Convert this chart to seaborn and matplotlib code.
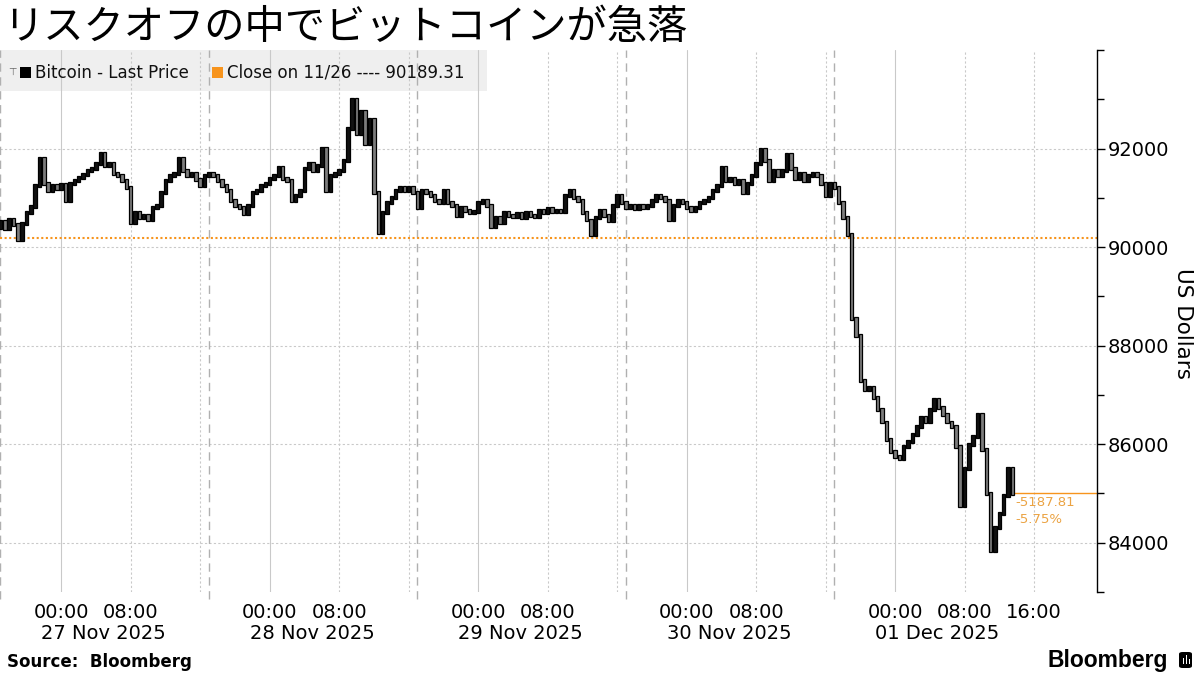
'''Bitcoin sell-off chart, Bloomberg style'''
import numpy as np
import pandas as pd
import seaborn as sns
import matplotlib.pyplot as plt
import matplotlib.dates as mdates
from matplotlib import ticker
from matplotlib import transforms
from matplotlib.patches import Rectangle, FancyBboxPatch

#region data
TITLE = 'リスクオフの中でビットコインが急落'
SERIES_NAME = 'Bitcoin - Last Price'
Y_LABEL = 'US Dollars'
SOURCE = 'Source:  Bloomberg'
LOGO = 'Bloomberg'

START = '2025-11-26 17:00'  # first 30-min bar
FIRST_OPEN = 90400
PREV_CLOSE = 90189.31
REF_DATE = '11/26'

# 30-min closes, 26 Nov 17:00 -> 01 Dec 13:30
CLOSE = [
    90520, 90380, 90560, 90450, 90150, 90480, 90700, 90820, 91250, 91800,
    91300, 91150, 91250, 91180, 91280, 90950, 91300, 91350, 91420, 91480,
    91550, 91600, 91700, 91900, 91650, 91700, 91500, 91450, 91350, 91200,
    90500, 90700, 90600, 90650, 90550, 90800, 90850, 91100, 91350, 91450,
    91500, 91800, 91550, 91450, 91500, 91380, 91250, 91450, 91500, 91450,
    91350, 91250, 91150, 90950, 90850, 90800, 90680, 90850, 91100, 91150,
    91250, 91300, 91400, 91450, 91620, 91400, 91350, 90950, 91050, 91150,
    91600, 91700, 91550, 91650, 92000, 91150, 91450, 91500, 91550, 91750,
    92400, 93000, 92300, 92750, 92100, 92600, 91100, 90300, 90700, 90900,
    91000, 91150, 91200, 91150, 91200, 91100, 90800, 91150, 91100, 91050,
    90950, 90900, 91150, 90900, 90850, 90650, 90800, 90750, 90700, 90720,
    90900, 90950, 90850, 90420, 90600, 90500, 90700, 90650, 90620, 90680,
    90600, 90700, 90650, 90620, 90750, 90700, 90780, 90720, 90750, 90720,
    91050, 91150, 91000, 90950, 90700, 90550, 90250, 90600, 90750, 90650,
    90530, 90850, 91050, 90900, 90800, 90850, 90780, 90850, 90800, 90850,
    90950, 91050, 91000, 90950, 90550, 90850, 90950, 90900, 90800, 90750,
    90800, 90900, 90950, 91000, 91150, 91250, 91620, 91350, 91400, 91300,
    91350, 91100, 91300, 91450, 91700, 91980, 91750, 91350, 91550, 91450,
    91550, 91880, 91600, 91400, 91500, 91350, 91450, 91500, 91450, 91300,
    91050, 91300, 91200, 90900, 90600, 90250, 88550, 88200, 87300, 87100,
    87150, 86950, 86700, 86450, 86100, 85850, 85750, 85700, 85950, 86050,
    86200, 86350, 86550, 86450, 86700, 86900, 86750, 86600, 86450, 86350,
    85950, 84750, 85500, 86000, 86150, 86600, 85900, 85000, 83850, 84300,
    84600, 84950, 85500, 85001.5,
]

DAYS = ['2025-11-27', '2025-11-28', '2025-11-29', '2025-11-30', '2025-12-01']
DAY_LABELS = ['27 Nov 2025', '28 Nov 2025', '29 Nov 2025', '30 Nov 2025', '01 Dec 2025']
SESSION_BREAKS = ['2025-11-26 17:00', '2025-11-27 17:00', '2025-11-28 17:00',
                  '2025-11-29 17:00', '2025-11-30 17:00']
X_RANGE = ['2025-11-26 16:57', '2025-12-01 23:15']
Y_TICKS = [84000, 86000, 88000, 90000, 92000]
Y_MINOR = [83000, 85000, 87000, 89000, 91000, 93000, 94000]
Y_RANGE = [83000, 94000]
#endregion

ORANGE = '#F7941D'
ORANGE_TXT = '#EBA343'
GRID = '#c9c9c9'
WICK = 30  # visual padding of each candle body, USD

W, H = 1200, 675


def fx(x):
    return x / W


def fy(y):
    return 1 - y / H


def dnum(s):
    return mdates.date2num(pd.Timestamp(s))


sns.set_theme(style='white')
plt.rcParams['font.family'] = ['DejaVu Sans', 'Noto Sans CJK JP']
plt.rcParams['text.color'] = 'black'

fig = plt.figure(figsize=(12, 6.75), dpi=100)
ax = fig.add_axes([0, fy(592), fx(1097), fy(50) - fy(592)])

times = pd.date_range(START, periods=len(CLOSE), freq='30min')
df = pd.DataFrame({'t': mdates.date2num(times), 'close': CLOSE})
df['open'] = [FIRST_OPEN] + CLOSE[:-1]

# connecting path + candle bodies
sns.lineplot(data=df, x='t', y='close', drawstyle='steps-post', color='black',
             lw=1.0, ax=ax, zorder=3)
step = 0.5 / 24
lo = np.minimum(df['open'], df['close']) - WICK
hi = np.maximum(df['open'], df['close']) + WICK
up = df['close'] >= df['open']
ax.bar(df['t'], hi - lo, bottom=lo, width=step * 0.8,
       color=np.where(up, '#111111', '#7d7d7d'), edgecolor='black',
       linewidth=0.9, zorder=4)

ax.set_xlim(dnum(X_RANGE[0]), dnum(X_RANGE[1]))
ax.set_ylim(*Y_RANGE)

# grid
for y in Y_TICKS:
    ax.axhline(y, color=GRID, lw=0.8, ls=(0, (2, 2)), zorder=1)
xt, xl = [], []
for i, d in enumerate(DAYS):
    for h in (0, 8, 16):
        t = dnum(d) + h / 24
        xt.append(t)
        last_day = i == len(DAYS) - 1
        xl.append('' if (h == 16 and not last_day) else f'{h:02d}:00')
        ax.axvline(t, color=GRID, lw=0.8, ls='-' if h == 0 else (0, (2, 2)), zorder=1)
for s in SESSION_BREAKS:
    ax.axvline(dnum(s), ymin=-0.012, ymax=1, color='#b0b0b0', lw=1.0,
               ls=(0, (6, 4)), zorder=1, clip_on=False)

ax.set_xticks(xt)
ax.set_xticklabels(xl)
ax.tick_params(axis='x', length=6, width=0.8, color=GRID, labelsize=14,
               pad=2, labelcolor='black')
blend = transforms.blended_transform_factory(ax.transData, ax.transAxes)
for d, lab in zip(DAYS, DAY_LABELS):
    ax.text(dnum(d) + 4.9 / 24, -0.076, lab, transform=blend, ha='center',
            va='center', fontsize=14, color='black')

ax.yaxis.tick_right()
ax.set_yticks(Y_TICKS)
ax.yaxis.set_minor_locator(ticker.FixedLocator(Y_MINOR))
ax.yaxis.set_major_formatter(ticker.FuncFormatter(lambda v, p: f'{v:.0f}'))
ax.tick_params(axis='y', which='major', length=6, width=1, color='black',
               labelsize=14, pad=2, right=True, left=False, labelcolor='black')
ax.tick_params(axis='y', which='minor', length=5, width=1, color='black',
               right=True, left=False)
ax.set_xlabel('')
ax.set_ylabel('')
for side in ('left', 'top', 'bottom'):
    ax.spines[side].set_visible(False)
ax.spines['right'].set_color('black')
ax.spines['right'].set_linewidth(1.0)

# reference close and last value
ax.axhline(PREV_CLOSE, color=ORANGE, lw=1.5, ls=(0, (1, 1.2)), zorder=2)
t_last = df['t'].iloc[-1]
last = CLOSE[-1]
ax.hlines(last, t_last, ax.get_xlim()[1], color=ORANGE, lw=1.0, zorder=2)
chg = last - PREV_CLOSE
pct = chg / PREV_CLOSE * 100
ax.annotate(f'{chg:.2f}', (t_last, last), xytext=(3, -9), textcoords='offset pixels',
            ha='left', va='center', fontsize=9.5, color=ORANGE_TXT)
ax.annotate(f'{pct:.2f}%', (t_last, last), xytext=(3, -26), textcoords='offset pixels',
            ha='left', va='center', fontsize=9.5, color=ORANGE_TXT)

# legend band
ax.add_patch(Rectangle((0, 1 - 41 / 542), 487 / 1097, 41 / 542, transform=ax.transAxes,
                       facecolor='#efefef', edgecolor='none', zorder=0.5))
fig.add_artist(Rectangle((fx(20), fy(78)), fx(11), 11 / H, facecolor='black',
                         edgecolor='none', transform=fig.transFigure))
fig.text(fx(35), fy(72.5), SERIES_NAME, fontsize=12, va='center', color='#111111')
fig.add_artist(Rectangle((fx(212), fy(78)), fx(11), 11 / H, facecolor=ORANGE,
                         edgecolor='none', transform=fig.transFigure))
fig.text(fx(227), fy(72.5), f'Close on {REF_DATE} ---- {PREV_CLOSE:.2f}', fontsize=12,
         va='center', color='#111111')
fig.text(fx(12), fy(72), '⊤', fontsize=7, va='center', ha='center', color='#666666')

# titles and footer
fig.text(fx(3), fy(27), TITLE, fontsize=29, va='center', color='black',
         family=['Noto Sans CJK JP', 'DejaVu Sans'])
fig.text(fx(1183), fy(323), Y_LABEL, rotation=270, fontsize=15.5, ha='center',
         va='center', color='black')
fig.text(fx(7), fy(662), SOURCE, fontsize=12, fontweight='bold', va='center', color='black')
fig.text(fx(1168), fy(661), LOGO, fontsize=16.5, fontweight='bold', ha='right', va='center',
         color='black', family=['Liberation Sans', 'DejaVu Sans'])
fig.add_artist(FancyBboxPatch((fx(1179), fy(668)), fx(13), 16 / H,
                              boxstyle='round,pad=0,rounding_size=0.003',
                              facecolor='black', edgecolor='none', transform=fig.transFigure))
for bx, bh in ((1182.5, 6), (1185.5, 9), (1188.5, 5)):
    fig.add_artist(Rectangle((fx(bx), fy(664)), fx(1.6), bh / H, facecolor='white',
                             edgecolor='none', transform=fig.transFigure))

fig.savefig('out.png', dpi=100)
